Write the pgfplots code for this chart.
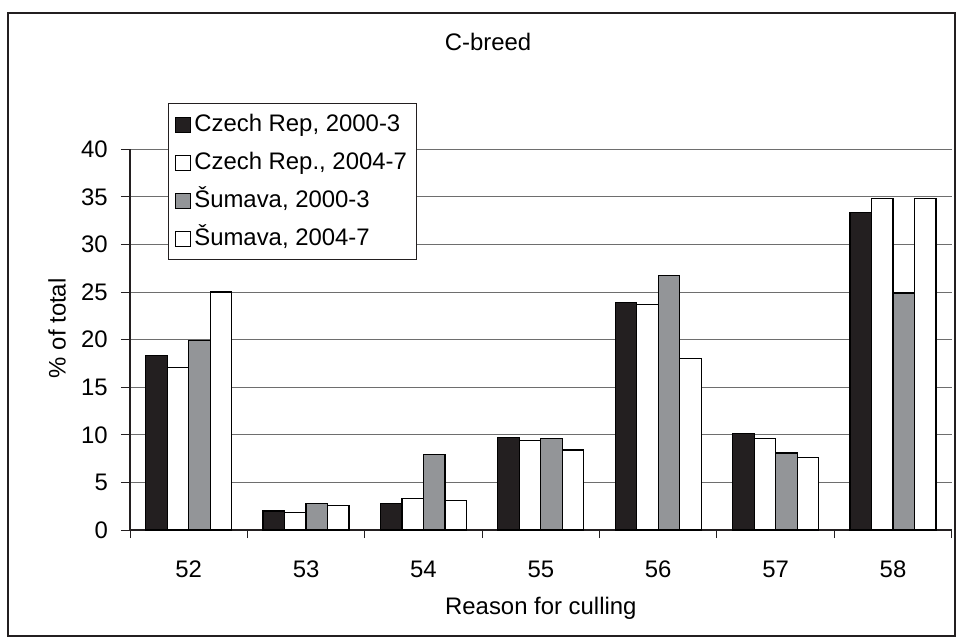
\documentclass[border=0pt]{standalone}
\usepackage{fontspec}
\setmainfont{Liberation Sans}
\usepackage{pgfplots}
\pgfplotsset{compat=1.18}
\definecolor{barblack}{RGB}{35,31,32}
\definecolor{bargray}{RGB}{147,149,152}
\definecolor{gridgray}{RGB}{110,110,110}
\definecolor{axisdark}{RGB}{35,31,32}
\begin{document}
\begin{tikzpicture}[font=\fontsize{24}{28}\selectfont]
\path (0,0) rectangle (959bp,-640bp);
\draw[line width=1.2bp, axisdark] (8bp,-13bp) rectangle (955bp,-636bp);
\begin{axis}[
  at={(130bp,-530bp)}, anchor=south west,
  scale only axis, width=821.7bp, height=380.7bp,
  xmin=-0.5, xmax=6.5, ymin=0, ymax=40,
  ybar=0pt, bar width=21.5bp,
  axis x line*=bottom, axis y line*=left,
  axis line style={line width=1.2bp, axisdark, -},
  ytick={0,5,...,40},
  ymajorgrids, grid style={gridgray, line width=1bp},
  xtick={0,...,6}, xticklabels={52,53,54,55,56,57,58},
  major x tick style={draw=none},
  minor xtick={-0.5,0.5,...,6.5},
  minor x tick style={draw=axisdark, line width=1bp},
  major y tick style={draw=axisdark, line width=1bp},
  tick align=outside, major tick length=9bp, minor tick length=8bp,
  /pgf/number format/assume math mode=true,
  xticklabel style={anchor=base, inner sep=0pt, yshift=-38bp},
  yticklabel style={anchor=east, inner sep=0pt, xshift=-13bp},
  title={C-breed},
  title style={at={(axis description cs:0.4357,1.266)}, anchor=center, inner sep=0pt},
  ylabel={\% of total},
  ylabel style={at={(axis description cs:-0.0888,0.53)}, anchor=center, inner sep=0pt},
  xlabel={Reason for culling},
  xlabel style={at={(axis description cs:0.5,-0.205)}, anchor=center, inner sep=0pt},
  legend cell align=left,
  legend style={at={(axis description cs:0.046,1.121)}, anchor=north west,
    draw=axisdark, line width=1bp, inner sep=6.5bp, row sep=9bp, fill=white,
    nodes={inner xsep=3.5bp, inner ysep=3bp, text height=18bp, text depth=5bp}},
  legend image code/.code={\draw[#1, line width=1bp] (0bp,-7.5bp) rectangle (15bp,7.5bp);},
]
\addplot[fill=barblack, draw=black, line width=1.2bp] coordinates {(0,18.3) (1,2.0) (2,2.8) (3,9.7) (4,23.9) (5,10.1) (6,33.4)};
\addplot[fill=white, draw=black, line width=1.2bp] coordinates {(0,17.1) (1,1.8) (2,3.3) (3,9.4) (4,23.7) (5,9.6) (6,34.8)};
\addplot[fill=bargray, draw=black, line width=1.2bp] coordinates {(0,19.9) (1,2.8) (2,7.9) (3,9.6) (4,26.7) (5,8.1) (6,24.9)};
\addplot[fill=white, draw=black, line width=1.2bp] coordinates {(0,25.0) (1,2.6) (2,3.1) (3,8.4) (4,18.0) (5,7.6) (6,34.8)};
\legend{{Czech Rep, 2000-3}, {Czech Rep., 2004-7}, {Šumava, 2000-3}, {Šumava, 2004-7}}
\end{axis}
\end{tikzpicture}
\end{document}
